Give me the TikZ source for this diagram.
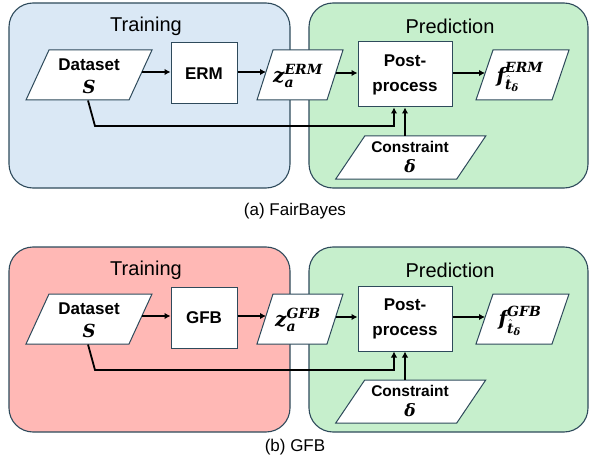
\documentclass[tikz,border=0pt]{standalone}
\usepackage{amsmath}
\usepackage{fontspec}
\setmainfont{Liberation Sans}
\newfontfamily\bmf{DejaVu Serif}
\newcommand\bi[1]{\text{\bmf\bfseries\itshape #1}}
\usetikzlibrary{arrows.meta,calc}
\definecolor{bord}{HTML}{2E4A5B}
\definecolor{trainblue}{HTML}{DAE8F5}
\definecolor{predgreen}{HTML}{C6EFCC}
\definecolor{trainpink}{HTML}{FFB8B5}
\begin{document}
\begin{tikzpicture}[x=1pt,y=-1pt,
  panel/.style={draw=bord,line width=1.1pt,rounded corners=24pt},
  parab/.style={draw=bord,fill=white,line width=1pt},
  procbox/.style={draw=bord,fill=white,line width=1pt,font=\fontsize{17}{25}\selectfont\bfseries,align=center,inner sep=0pt},
  paratext/.style={font=\fontsize{17}{23}\selectfont\bfseries,align=center,inner sep=0pt},
  context/.style={font=\fontsize{15.5}{20}\selectfont\bfseries,align=center,inner sep=0pt},
  mlbl/.style={font=\fontsize{20}{24}\selectfont,inner sep=0pt},
  arr/.style={line width=1.8pt,-{Latex[length=6pt,width=6.5pt]}},
  lbl/.style={font=\fontsize{20}{24}\selectfont,inner sep=0pt},
  capt/.style={font=\fontsize{17}{20}\selectfont,inner sep=0pt}]
\path[fill=white] (0,0) rectangle (590,460);
\useasboundingbox (0,0) rectangle (590,460);
% ---------- panel (a)
\draw[panel,fill=trainblue] (9,3) rectangle (290,188);
\draw[panel,fill=predgreen] (309,3) rectangle (588,188);
\node[lbl] (atrain) at (146,26) {Training};
\node[lbl] (apred) at (450,26) {Prediction};
\draw[parab] (49,50) -- (152,50) -- (129,100) -- (26,100) -- cycle;
\draw[parab] (273,50) -- (343,50) -- (327,100) -- (257,100) -- cycle;
\draw[parab] (493,50) -- (569,50) -- (552,100) -- (476,100) -- cycle;
\draw[parab] (364.75,136) -- (485.75,136) -- (456.75,179) -- (335.75,179) -- cycle;
\node[procbox,minimum width=66pt,minimum height=61pt] (aerm) at (204,73.5) {ERM};
\node[procbox,minimum width=94pt,minimum height=65pt] (apost) at (405,74.5) {Post-\\process};
\node[paratext] (ads) at (89,76) {Dataset\\{\fontsize{18}{23}\selectfont\bi{S}}};
\node[mlbl] (az) at (298,76) {$\bi{z}_{\bi{a}}^{\bi{ERM}}$};
\node[mlbl] (af) at (520,77) {$\bi{f}_{\hat{\bi{t}}_{\bi{δ}}}^{\bi{ERM}}$};
\node[context] (acon) at (410,157) {Constraint\\{\fontsize{17}{20}\selectfont\bi{δ}}};
\coordinate (adsE) at (141.5,72);
\coordinate (azW) at (266,72);
\coordinate (azE) at (336,73);
\coordinate (afW) at (485,73);
\coordinate (adsB) at (88,100.5);
\coordinate (abend) at (95,126);
\coordinate (apin) at (394,126);
\coordinate (acT) at (405,136);
\draw[arr] (adsE) -- (adsE -| aerm.west);
\draw[arr] (aerm.east |- azW) -- (azW);
\draw[arr] (azE) -- (azE -| apost.west);
\draw[arr] (apost.east |- afW) -- (afW);
\draw[arr] (adsB) -- (abend) -- (apin) -- (apin |- apost.south);
\draw[arr] (acT) -- (acT |- apost.south);
% ---------- panel (b)
\begin{scope}[shift={(0,244)}]
\draw[panel,fill=trainpink] (9,3) rectangle (290,188);
\draw[panel,fill=predgreen] (309,3) rectangle (588,188);
\node[lbl] (btrain) at (146,26) {Training};
\node[lbl] (bpred) at (450,26) {Prediction};
\draw[parab] (49,50) -- (152,50) -- (129,100) -- (26,100) -- cycle;
\draw[parab] (273,50) -- (343,50) -- (327,100) -- (257,100) -- cycle;
\draw[parab] (493,50) -- (569,50) -- (552,100) -- (476,100) -- cycle;
\draw[parab] (364.75,136) -- (485.75,136) -- (456.75,179) -- (335.75,179) -- cycle;
\node[procbox,minimum width=66pt,minimum height=61pt] (berm) at (204,73.5) {GFB};
\node[procbox,minimum width=94pt,minimum height=65pt] (bpost) at (405,74.5) {Post-\\process};
\node[paratext] (bds) at (89,76) {Dataset\\{\fontsize{18}{23}\selectfont\bi{S}}};
\node[mlbl] (bz) at (298,76) {$\bi{z}_{\bi{a}}^{\bi{GFB}}$};
\node[mlbl] (bf) at (520,77) {$\bi{f}_{\hat{\bi{t}}_{\bi{δ}}}^{\bi{GFB}}$};
\node[context] (bcon) at (410,157) {Constraint\\{\fontsize{17}{20}\selectfont\bi{δ}}};
\coordinate (bdsE) at (141.5,72);
\coordinate (bzW) at (266,72);
\coordinate (bzE) at (336,73);
\coordinate (bfW) at (485,73);
\coordinate (bdsB) at (88,100.5);
\coordinate (bbend) at (95,126);
\coordinate (bpin) at (394,126);
\coordinate (bcT) at (405,136);
\draw[arr] (bdsE) -- (bdsE -| berm.west);
\draw[arr] (berm.east |- bzW) -- (bzW);
\draw[arr] (bzE) -- (bzE -| bpost.west);
\draw[arr] (bpost.east |- bfW) -- (bfW);
\draw[arr] (bdsB) -- (bbend) -- (bpin) -- (bpin |- bpost.south);
\draw[arr] (bcT) -- (bcT |- bpost.south);
\end{scope}
\node[capt] (capa) at (295,211) {(a) FairBayes};
\node[capt] (capb) at (295,447) {(b) GFB};
\end{tikzpicture}
\end{document}
